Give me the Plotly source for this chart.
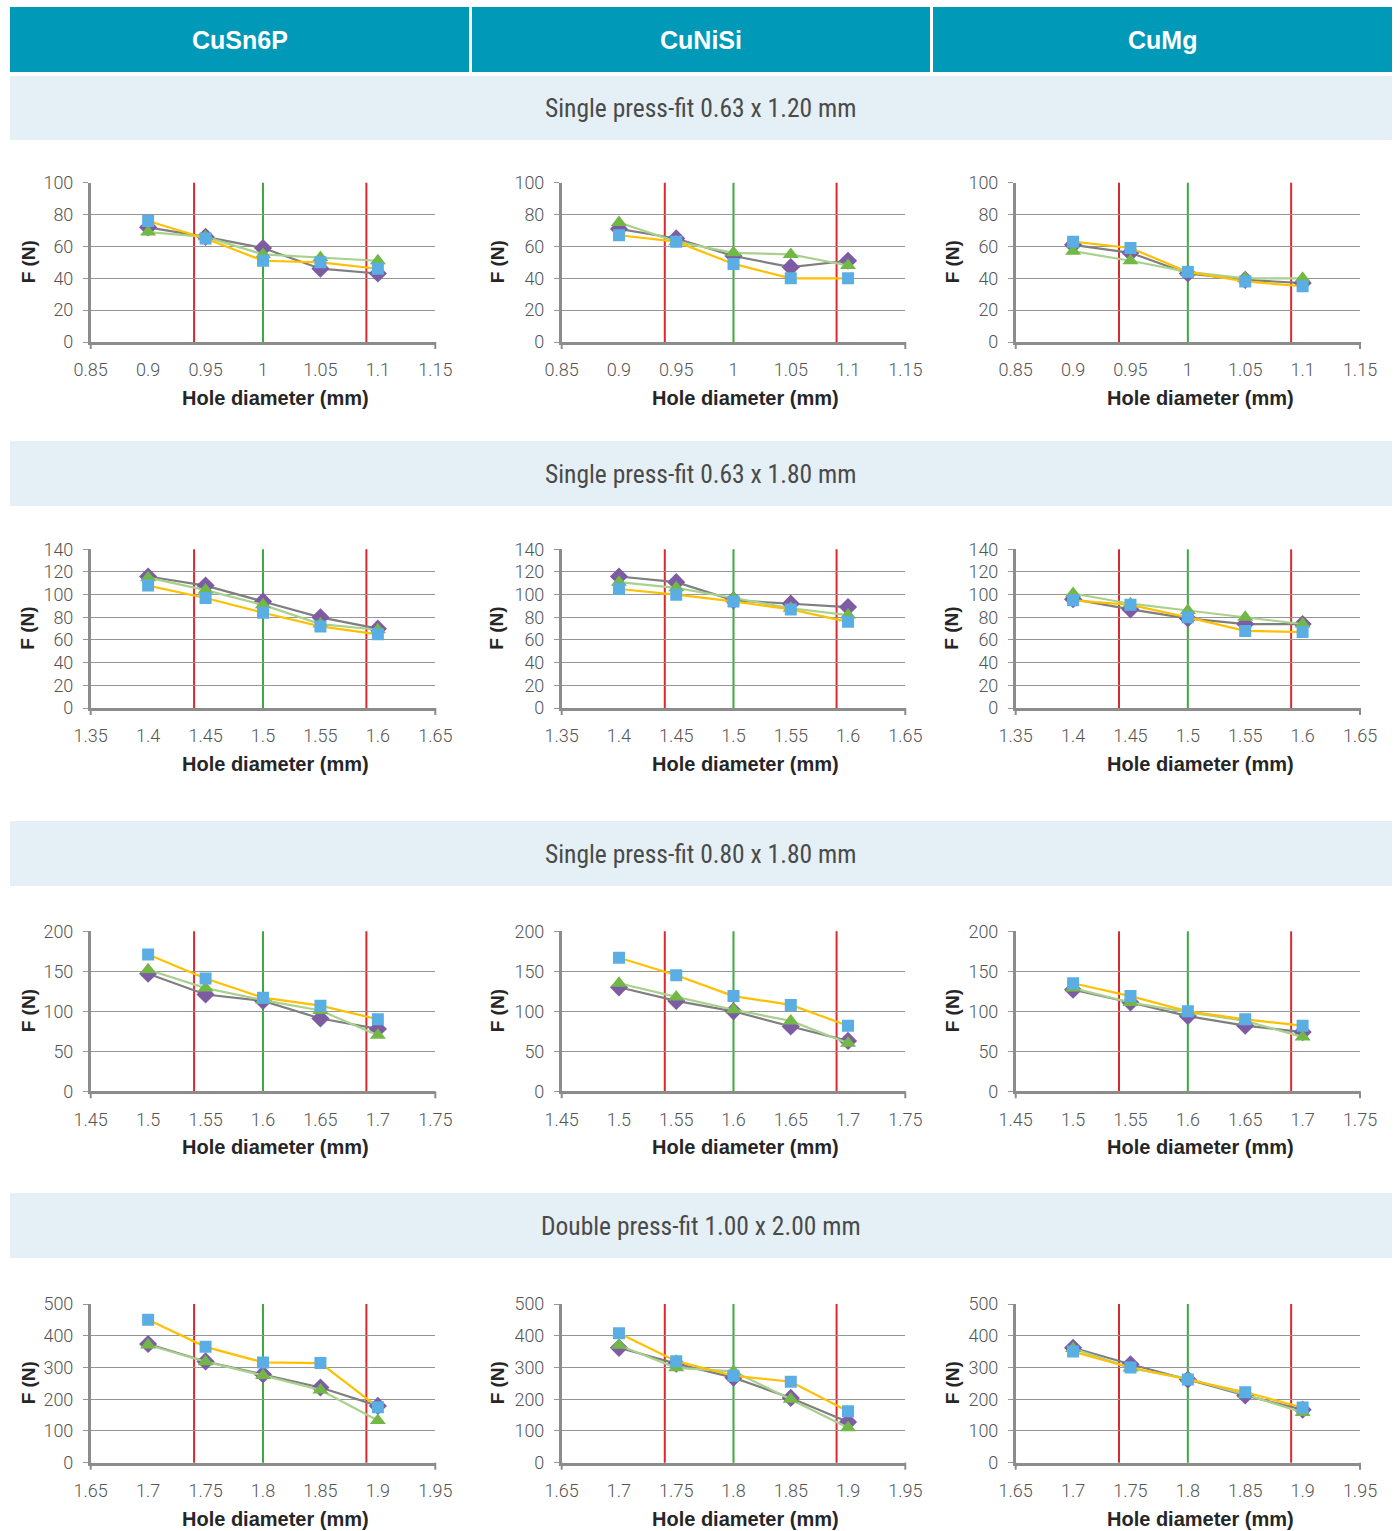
import plotly.graph_objects as go
from plotly.subplots import make_subplots

# ---------------- data ----------------
materials = ["CuSn6P", "CuNiSi", "CuMg"]
sections = [
    "Single press-fit 0.63 x 1.20 mm",
    "Single press-fit 0.63 x 1.80 mm",
    "Single press-fit 0.80 x 1.80 mm",
    "Double press-fit 1.00 x 2.00 mm",
]
hole_diameters = [
    [0.90, 0.95, 1.00, 1.05, 1.10],
    [1.40, 1.45, 1.50, 1.55, 1.60],
    [1.50, 1.55, 1.60, 1.65, 1.70],
    [1.70, 1.75, 1.80, 1.85, 1.90],
]
nominal_hole = [1.00, 1.50, 1.60, 1.80]
lower_limit = [0.94, 1.44, 1.54, 1.74]
upper_limit = [1.09, 1.59, 1.69, 1.89]
x_ranges = [[0.85, 1.15], [1.35, 1.65], [1.45, 1.75], [1.65, 1.95]]
y_max = [100, 140, 200, 500]
y_step = [20, 20, 50, 100]

# per row: [CuSn6P, CuNiSi, CuMg]
row1_diamond = [[72, 66, 59, 46, 43], [71, 65, 54, 47, 51], [61, 56, 43, 39, 37]]
row1_triangle = [[69, 66, 55, 53, 51], [75, 63, 56, 55, 48], [57, 51, 44, 40, 40]]
row1_square = [[76, 65, 51, 50, 46], [67, 63, 49, 40, 40], [63, 59, 44, 38, 35]]

row2_diamond = [[116, 108, 94, 80, 70], [116, 111, 95, 92, 89], [96, 87, 79, 74, 74]]
row2_triangle = [[115, 104, 91, 74, 69], [111, 106, 97, 88, 82], [101, 92, 86, 80, 74]]
row2_square = [[108, 97, 84, 72, 65], [105, 100, 94, 87, 76], [95, 91, 80, 68, 67]]

row3_diamond = [[147, 121, 113, 91, 78], [130, 113, 100, 81, 63], [127, 111, 94, 82, 74]]
row3_triangle = [[152, 129, 114, 101, 70], [135, 118, 102, 88, 60], [129, 111, 99, 88, 68]]
row3_square = [[171, 141, 117, 107, 90], [167, 145, 119, 108, 82], [135, 119, 100, 90, 82]]

row4_diamond = [[374, 319, 278, 237, 179], [362, 312, 268, 204, 128], [362, 310, 262, 212, 167]]
row4_triangle = [[371, 318, 275, 229, 133], [370, 299, 288, 200, 110], [360, 298, 265, 215, 158]]
row4_square = [[450, 365, 316, 314, 175], [408, 320, 274, 255, 162], [350, 300, 262, 222, 174]]

diamond_rows = [row1_diamond, row2_diamond, row3_diamond, row4_diamond]
triangle_rows = [row1_triangle, row2_triangle, row3_triangle, row4_triangle]
square_rows = [row1_square, row2_square, row3_square, row4_square]

# ---------------- styling / layout ----------------
W, H = 1400, 1531
TEAL = "#0099B7"
BAND = "#E4F0F5"
GRID = "#959595"
AXIS = "#8C8C8C"
TICKFONT = dict(family="Roboto, Liberation Sans, Arial, sans-serif", size=18, color="#555555", weight=300)
BOLD = "Liberation Sans, Arial, sans-serif"

col_px = [(90.7, 435.3), (561.7, 905.3), (1015.7, 1360.0)]
row_px = [(182.7, 342.0), (549.3, 708.0), (931.3, 1091.3), (1304.0, 1462.7)]
header_rows = [(76, 140), (441, 506), (821, 886), (1193, 1258)]
xtitle_y = [398, 764, 1147, 1519]
xtitle_x = [275, 745, 1200]
ytitle_x = [28, 497, 952]

series_style = [
    dict(name="Series 1", line=dict(color="#7F7F7F", width=2.2),
         marker=dict(symbol="diamond", size=14, color="#7E5CA4")),
    dict(name="Series 2", line=dict(color="#A9D18E", width=2.2),
         marker=dict(symbol="triangle-up", size=14, color="#72B846")),
    dict(name="Series 3", line=dict(color="#FFC000", width=2.2),
         marker=dict(symbol="square", size=12, color="#5BAEE3")),
]

fig = make_subplots(rows=4, cols=3)

shapes = []
annotations = []

hx = [(10, 469), (472, 930), (933, 1392)]
for c, (a, b) in enumerate(hx):
    shapes.append(dict(type="rect", xref="paper", yref="paper", x0=a / W, x1=b / W,
                       y0=1 - 72 / H, y1=1 - 7 / H, fillcolor=TEAL, line=dict(width=0), layer="below"))
    annotations.append(dict(text=materials[c], xref="paper", yref="paper", x=(a + b) / 2 / W,
                            y=1 - 40 / H, showarrow=False, xanchor="center", yanchor="middle",
                            font=dict(family=BOLD, size=25, color="white", weight="bold")))

for r in range(4):
    y0p, y1p = header_rows[r]
    shapes.append(dict(type="rect", xref="paper", yref="paper", x0=10 / W, x1=1392 / W,
                       y0=1 - y1p / H, y1=1 - y0p / H, fillcolor=BAND, line=dict(width=0), layer="below"))
    annotations.append(dict(text=sections[r], xref="paper", yref="paper", x=701 / W,
                            y=1 - (y0p + y1p) / 2 / H, showarrow=False, xanchor="center", yanchor="middle",
                            font=dict(family="Liberation Sans Narrow, Roboto Condensed, Roboto, sans-serif",
                                      size=25.5, color="#4A4A4A")))
    xs = hole_diameters[r]
    for c in range(3):
        n = r * 3 + c + 1
        sfx = "" if n == 1 else str(n)
        for s, data in enumerate([diamond_rows[r][c], triangle_rows[r][c], square_rows[r][c]]):
            st = series_style[s]
            fig.add_trace(go.Scatter(x=xs, y=data, mode="lines+markers", name=st["name"],
                                     line=st["line"], marker=dict(st["marker"], line=dict(width=0)),
                                     showlegend=False), row=r + 1, col=c + 1)
        for xv, colr in [(lower_limit[r], "#DA2A2F"), (nominal_hole[r], "#3DAA3D"), (upper_limit[r], "#DA2A2F")]:
            shapes.append(dict(type="line", xref="x" + sfx, yref="y" + sfx + " domain",
                               x0=xv, x1=xv, y0=0, y1=1, line=dict(color=colr, width=2), layer="below"))
        for xd in (0, 1):
            shapes.append(dict(type="line", xref="x" + sfx + " domain", yref="y" + sfx + " domain",
                               x0=xd, x1=xd, y0=0, y1=-7 / (row_px[r][1] - row_px[r][0]),
                               line=dict(color=AXIS, width=2)))
        xa, xb = x_ranges[r]
        nt = int(round((xb - xa) / 0.05)) + 1
        tv = [round(xa + 0.05 * i, 2) for i in range(nt)]
        fig.update_xaxes(row=r + 1, col=c + 1, automargin=False,
                         domain=[col_px[c][0] / W, col_px[c][1] / W],
                         range=[xa, xb], tickvals=tv, ticktext=[f"{v:g}" for v in tv],
                         showgrid=False, zeroline=False, showline=True, linecolor=AXIS, linewidth=2.5,
                         ticks="", ticklabelstandoff=10, tickfont=TICKFONT)
        yt = list(range(0, y_max[r] + 1, y_step[r]))
        fig.update_yaxes(row=r + 1, col=c + 1, automargin=False,
                         domain=[1 - row_px[r][1] / H, 1 - row_px[r][0] / H],
                         range=[0, y_max[r]], tickvals=yt, showgrid=True, gridcolor=GRID, gridwidth=1.2,
                         zeroline=False, showline=True, linecolor=AXIS, linewidth=2.5,
                         ticks="outside", ticklen=5, tickcolor=GRID, tickwidth=1.2,
                         ticklabelstandoff=6, tickfont=TICKFONT)
        annotations.append(dict(text="Hole diameter (mm)", xref="paper", yref="paper",
                                x=xtitle_x[c] / W, y=1 - xtitle_y[r] / H, showarrow=False,
                                xanchor="center", yanchor="middle",
                                font=dict(family=BOLD, size=20, color="#262626", weight="bold")))
        annotations.append(dict(text="F (N)", xref="paper", yref="paper", textangle=-90,
                                x=ytitle_x[c] / W, y=1 - (row_px[r][0] + row_px[r][1]) / 2 / H,
                                showarrow=False, xanchor="center", yanchor="middle",
                                font=dict(family=BOLD, size=19, color="#262626", weight="bold")))

fig.update_layout(width=W, height=H, autosize=False,
                  margin=dict(l=0, r=0, t=0, b=0, pad=0, autoexpand=False),
                  paper_bgcolor="white", plot_bgcolor="white",
                  shapes=shapes, annotations=annotations, showlegend=False)

fig.write_html("out.html", config={"displayModeBar": False},
               post_script="document.documentElement.style.overflow='hidden';"
                           "document.body.style.margin='0';document.body.style.overflow='hidden';")
